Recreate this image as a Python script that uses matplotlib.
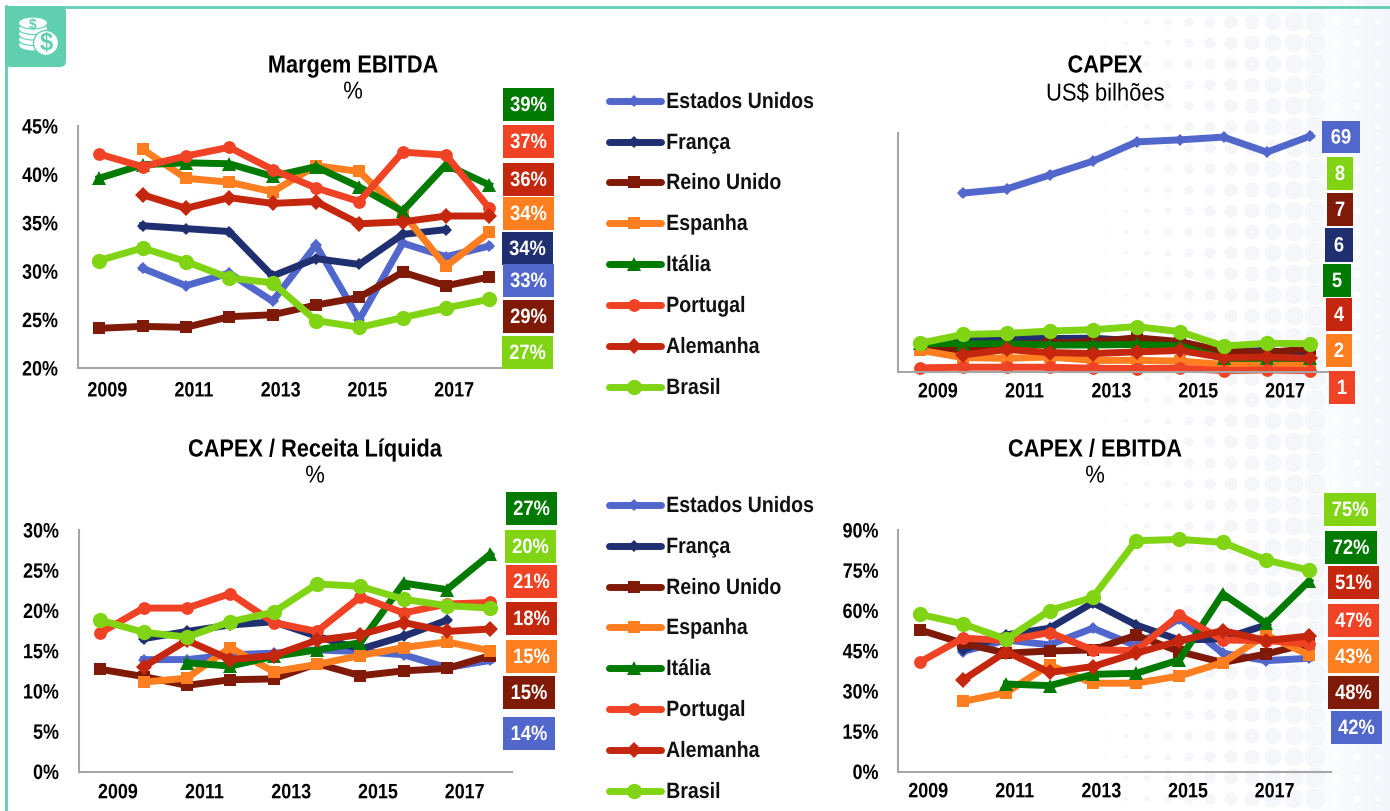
import numpy as np
import matplotlib
matplotlib.use("Agg")
import matplotlib.pyplot as plt
from matplotlib.patches import Rectangle, FancyBboxPatch, Ellipse, Circle
from matplotlib.patheffects import AbstractPathEffect
from matplotlib.transforms import Affine2D

W, H = 1390, 812
plt.rcParams["font.family"] = ["Liberation Sans", "DejaVu Sans"]

years = [2009, 2010, 2011, 2012, 2013, 2014, 2015, 2016, 2017, 2018]
tick_years = ["2009", "2011", "2013", "2015", "2017"]
series_names = ["Estados Unidos", "França", "Reino Unido", "Espanha", "Itália",
                "Portugal", "Alemanha", "Brasil"]

# Margem EBITDA, %
margem_eua = [None, 30.3, 28.5, 29.8, 26.9, 32.7, 25.0, 32.9, 31.5, 32.6]
margem_franca = [None, 34.7, 34.4, 34.1, 29.5, 31.3, 30.7, 33.8, 34.3, None]
margem_uk = [24.1, 24.3, 24.2, 25.3, 25.5, 26.5, 27.3, 29.9, 28.5, 29.4]
margem_espanha = [None, 42.6, 39.6, 39.2, 38.2, 40.9, 40.3, 36.0, 30.5, 34.0]
margem_italia = [39.6, 41.0, 41.2, 41.1, 39.8, 40.8, 38.7, 36.2, 41.0, 38.9]
margem_portugal = [42.1, 40.8, 41.9, 42.8, 40.5, 38.6, 37.2, 42.3, 42.0, 36.5]
margem_alemanha = [None, 37.9, 36.5, 37.6, 37.0, 37.2, 34.9, 35.1, 35.7, 35.7]
margem_brasil = [31.1, 32.4, 31.0, 29.3, 28.8, 24.9, 24.2, 25.2, 26.2, 27.1]

# CAPEX, US$ bilhoes
capex_eua = [None, 52.4, 53.6, 57.7, 61.8, 67.4, 68.0, 68.8, 64.4, 69.1]
capex_franca = [8.6, 9.6, 9.8, 9.8, 9.9, 9.1, 8.3, 6.0, 6.3, 5.2]
capex_uk = [7.6, 6.1, 8.0, 8.5, 8.9, 10.0, 8.9, 6.1, 5.7, 6.8]
capex_espanha = [6.4, 4.2, 4.0, 4.4, 3.4, 3.4, 3.2, 2.2, 2.4, 2.2]
capex_italia = [8.4, 8.3, 8.3, 7.9, 7.9, 8.1, 7.6, 4.0, 4.0, 4.0]
capex_portugal = [1.2, 1.4, 1.4, 1.4, 1.1, 1.0, 1.1, 0.4, 0.6, 0.4]
capex_alemanha = [None, 5.0, 6.6, 5.7, 5.4, 5.9, 6.3, 4.2, 4.4, 4.0]
capex_brasil = [8.4, 11.0, 11.3, 12.0, 12.4, 13.3, 11.8, 7.6, 8.4, 8.3]

# CAPEX / Receita Liquida, %
receita_eua = [None, 13.9, 13.9, 14.5, 14.7, 15.1, 14.9, 14.5, 12.9, 13.8]
receita_franca = [None, 16.5, 17.4, 18.2, 18.6, 16.8, 15.2, 16.8, 18.8, None]
receita_uk = [12.7, 11.8, 10.7, 11.4, 11.5, 13.4, 11.9, 12.5, 12.8, 14.4]
receita_espanha = [None, 11.1, 11.6, 15.4, 12.4, 13.3, 14.4, 15.4, 16.1, 15.0]
receita_italia = [None, None, 13.5, 13.1, 14.3, 15.1, 16.0, 23.4, 22.6, 27.0]
receita_portugal = [17.2, 20.3, 20.3, 22.1, 18.5, 17.4, 21.7, 19.7, 20.8, 21.0]
receita_alemanha = [None, 13.0, 16.3, 13.9, 14.4, 16.3, 17.0, 18.5, 17.4, 17.7]
receita_brasil = [18.8, 17.3, 16.7, 18.6, 19.8, 23.3, 23.0, 21.4, 20.6, 20.3]

# CAPEX / EBITDA, %
ebitda_eua = [None, 44.7, 49.0, 47.2, 53.4, 46.8, 57.0, 44.1, 41.3, 42.2]
ebitda_franca = [None, 45.3, 50.9, 53.4, 62.9, 54.6, 49.0, 49.4, 54.6, None]
ebitda_uk = [52.8, 47.8, 44.1, 44.9, 45.3, 50.8, 44.7, 40.6, 43.8, 47.8]
ebitda_espanha = [None, 26.1, 29.4, 39.7, 32.9, 32.9, 35.6, 40.6, 50.9, 43.4]
ebitda_italia = [None, None, 32.6, 32.0, 36.2, 36.6, 41.6, 66.2, 55.2, 71.1]
ebitda_portugal = [40.7, 49.7, 48.8, 51.8, 45.3, 45.1, 58.3, 49.0, 48.8, 47.5]
ebitda_alemanha = [None, 34.1, 44.7, 36.9, 39.1, 44.1, 48.7, 52.5, 48.8, 50.5]
ebitda_brasil = [58.6, 55.0, 49.3, 60.0, 64.9, 86.0, 86.5, 85.4, 78.8, 75.0]

# end labels, top to bottom
margem_labels = ["39%", "37%", "36%", "34%", "34%", "33%", "29%", "27%"]
capex_labels = ["69", "8", "7", "6", "5", "4", "2", "1"]
receita_labels = ["27%", "20%", "21%", "18%", "15%", "15%", "14%"]
ebitda_labels = ["75%", "72%", "51%", "47%", "43%", "48%", "42%"]

COLORS = {
    "Estados Unidos": "#5167CC", "França": "#1F2F70", "Reino Unido": "#7F1A08",
    "Espanha": "#FF7F20", "Itália": "#007A00", "Portugal": "#F04225",
    "Alemanha": "#C4260E", "Brasil": "#80D414",
}
MARKERS = {
    "Estados Unidos": ("D", 6.5), "França": ("D", 6.0), "Reino Unido": ("s", 8.0),
    "Espanha": ("s", 8.0), "Itália": ("^", 10), "Portugal": ("o", 9.2),
    "Alemanha": ("D", 7.8), "Brasil": ("o", 11),
}
TEAL = "#5FCFB0"
LW = 5.0


class Squeeze(AbstractPathEffect):
    # the reference font is a narrow one, none is installed so squeeze the glyphs
    def __init__(self, sx, ha="center"):
        super().__init__()
        self.sx = sx
        self.ha = ha

    def draw_path(self, renderer, gc, tpath, affine, rgbFace=None):
        ext = tpath.get_extents()
        anchor = {"left": ext.x0, "center": (ext.x0 + ext.x1) / 2, "right": ext.x1}[self.ha]
        squeeze = Affine2D().translate(-anchor, 0).scale(self.sx, 1).translate(anchor, 0)
        renderer.draw_path(gc, tpath, squeeze + affine, rgbFace)


def px_axes(fig, left, top, right, bottom):
    ax = fig.add_axes([left / W, 1 - bottom / H, (right - left) / W, (bottom - top) / H], zorder=2)
    ax.patch.set_alpha(0)
    return ax


def draw_panel(fig, rect, data, ylim, yticks, ylabels, tick_shift, xpad):
    ax = px_axes(fig, *rect)
    for name, values in zip(series_names, data):
        y = np.array(values, dtype=float)
        marker, size = MARKERS[name]
        ax.plot(range(len(years)), y, color=COLORS[name], lw=LW, marker=marker,
                ms=size, mew=0, clip_on=False, solid_joinstyle="miter")
    ax.set_xlim(-0.5, 9.5)
    ax.set_ylim(*ylim)
    ax.set_xticks(np.arange(0, 10, 2) + tick_shift)
    ax.set_xticklabels(tick_years, fontsize=15, fontweight="bold")
    ax.set_yticks(yticks)
    ax.set_yticklabels(ylabels, fontsize=15, fontweight="bold")
    ax.tick_params(length=0, axis="x", pad=xpad)
    ax.tick_params(length=0, axis="y", pad=14.0)
    for lab in ax.get_xticklabels():
        lab.set_path_effects([Squeeze(0.86, "center")])
    for lab in ax.get_yticklabels():
        lab.set_path_effects([Squeeze(0.86, "right")])
    for side in ["top", "right"]:
        ax.spines[side].set_visible(False)
    for side in ["left", "bottom"]:
        ax.spines[side].set_color("#A6A6A6")
        ax.spines[side].set_linewidth(1.5)
    return ax


def draw_boxes(over, labels, boxes, colors):
    for text, (x0, y0, x1, y1), color in zip(labels, boxes, colors):
        over.add_patch(Rectangle((x0, y0 + 1), x1 - x0, y1 - y0, color=color, lw=0, zorder=5))
        over.text((x0 + x1) / 2, (y0 + y1) / 2 + 2, text, color="white", fontsize=15,
                  fontweight="bold", ha="center", va="center", zorder=6,
                  path_effects=[Squeeze(0.88, "center")])


def draw_legend(over, rows):
    for name, y in zip(series_names, rows):
        marker, size = MARKERS[name]
        over.plot([609, 661], [y + 1, y + 1], color=COLORS[name], lw=LW, solid_capstyle="round")
        over.plot([634], [y + 1], color=COLORS[name], marker=marker, ms=size, mew=0)
        over.text(666, y + 2.5, name, fontsize=16, fontweight="bold", va="center", ha="left",
                  color="#111111", path_effects=[Squeeze(0.88, "left")])


def draw_title(over, x, y, title, sub, sub_y):
    over.text(x, y + 2.5, title, fontsize=17.8, fontweight="bold", ha="center", va="center",
              path_effects=[Squeeze(0.88, "center")])
    over.text(x, sub_y + 2.5, sub, fontsize=17.6, ha="center", va="center",
              path_effects=[Squeeze(0.9, "center")])


def draw_icon(over):
    over.add_patch(FancyBboxPatch((8, 10), 55, 55, boxstyle="round,pad=3,rounding_size=6",
                                  fc=TEAL, ec="none", zorder=3))
    for i in range(5):
        over.add_patch(Ellipse((33, 46 - i * 5.5), 29, 12, fc="white", ec=TEAL, lw=0.8, zorder=4))
    over.text(33, 24.5, "$", color=TEAL, fontsize=10, fontweight="bold", ha="center",
              va="center", zorder=5)
    over.add_patch(Circle((46, 44), 12.5, fc="white", ec=TEAL, lw=1, zorder=5))
    over.text(46, 44, "$", color=TEAL, fontsize=17, fontweight="bold", ha="center",
              va="center", zorder=6)


def draw_background(back):
    # faint dot screen on the right side, bluish wash at the far edge
    wash = np.linspace(0, 1, 90).reshape(1, -1, 1)
    rgb = (1 - wash) * np.array([1, 1, 1]) + wash * np.array([0.95, 0.965, 0.98])
    back.imshow(rgb, extent=(1300, 1390, H, 0), aspect="auto", zorder=0)
    back.set_xlim(0, W)
    back.set_ylim(H, 0)
    gx, gy = np.meshgrid(np.arange(1105, 1330, 21), np.arange(23, 812, 21))
    diam = 2 + (gx - 1105) / 205 * 18
    back.scatter(gx, gy, s=(diam / 1.389) ** 2, color="#F5F6F9", lw=0, zorder=1)
    gx, gy = np.meshgrid(np.arange(1336, 1390, 21), np.arange(23, 812, 21))
    diam = 9 - (gx - 1336) / 54 * 6
    back.scatter(gx, gy, s=(diam / 1.389) ** 2, color="white", lw=0, zorder=1)


def main():
    fig = plt.figure(figsize=(W / 100, H / 100), dpi=100, facecolor="white")

    back = fig.add_axes([0, 0, 1, 1], zorder=0)
    back.axis("off")
    draw_background(back)

    over = fig.add_axes([0, 0, 1, 1], zorder=3)
    over.set_xlim(0, W)
    over.set_ylim(H, 0)
    over.axis("off")
    over.patch.set_alpha(0)

    over.plot([6, 1390], [7.5, 7.5], color=TEAL, lw=2.0)
    over.plot([6, 6], [7, 812], color=TEAL, lw=2.0)
    draw_icon(over)

    margem = [margem_eua, margem_franca, margem_uk, margem_espanha, margem_italia,
              margem_portugal, margem_alemanha, margem_brasil]
    capex = [capex_eua, capex_franca, capex_uk, capex_espanha, capex_italia,
             capex_portugal, capex_alemanha, capex_brasil]
    receita = [receita_eua, receita_franca, receita_uk, receita_espanha, receita_italia,
               receita_portugal, receita_alemanha, receita_brasil]
    ebitda = [ebitda_eua, ebitda_franca, ebitda_uk, ebitda_espanha, ebitda_italia,
              ebitda_portugal, ebitda_alemanha, ebitda_brasil]

    draw_panel(fig, (77.5, 127, 511, 369), margem, (20, 45), range(20, 50, 5),
               [f"{v}%" for v in range(20, 50, 5)], 0.19, 9.7)
    draw_panel(fig, (898, 134, 1332, 373), capex, (0, 70), [], [], 0.42, 7.5)
    draw_panel(fig, (78.5, 531, 512, 772.5), receita, (0, 30), range(0, 35, 5),
               [f"{v}%" for v in range(0, 35, 5)], 0.41, 8.5)
    draw_panel(fig, (898, 531, 1331, 772.5), ebitda, (0, 90), range(0, 105, 15),
               [f"{v}%" for v in range(0, 105, 15)], 0.2, 7.8)

    c = COLORS
    draw_boxes(over, margem_labels,
               [(503, 88, 554, 121), (503, 125, 554, 158), (503, 163, 554, 196),
                (503, 197, 554, 230), (502, 232, 553, 265), (503, 264, 554, 297),
                (503, 300, 554, 333), (502, 336, 553, 369)],
               [c["Itália"], c["Portugal"], c["Alemanha"], c["Espanha"], c["França"],
                c["Estados Unidos"], c["Reino Unido"], c["Brasil"]])
    draw_boxes(over, capex_labels,
               [(1322, 121, 1360, 153), (1327, 157, 1353, 190), (1327, 193, 1353, 226),
                (1325, 228, 1353, 262), (1323, 264, 1351, 297), (1326, 298, 1352, 331),
                (1326, 334, 1352, 367), (1329, 371, 1355, 404)],
               [c["Estados Unidos"], c["Brasil"], c["Reino Unido"], c["França"], c["Itália"],
                c["Alemanha"], c["Espanha"], c["Portugal"]])
    draw_boxes(over, receita_labels,
               [(506, 492, 557, 525), (505, 530, 556, 563), (506, 565, 557, 598),
                (506, 602, 557, 635), (506, 640, 557, 673), (503, 676, 555, 709),
                (503, 717, 555, 750)],
               [c["Itália"], c["Brasil"], c["Portugal"], c["Alemanha"], c["Espanha"],
                c["Reino Unido"], c["Estados Unidos"]])
    draw_boxes(over, ebitda_labels,
               [(1324, 493, 1376, 526), (1325, 531, 1377, 564), (1328, 566, 1379, 599),
                (1328, 604, 1379, 637), (1328, 640, 1379, 673), (1328, 676, 1379, 709),
                (1331, 711, 1382, 744)],
               [c["Brasil"], c["Itália"], c["Alemanha"], c["Portugal"], c["Espanha"],
                c["Reino Unido"], c["Estados Unidos"]])

    draw_legend(over, [101, 142, 182, 223, 264, 305, 346, 387])
    draw_legend(over, [505, 546, 587, 627, 668, 709, 750, 791])

    draw_title(over, 353, 64, "Margem EBITDA", "%", 91)
    draw_title(over, 1105, 64, "CAPEX", "US$ bilhões", 93)
    draw_title(over, 315, 448, "CAPEX / Receita Líquida", "%", 475)
    draw_title(over, 1095, 448, "CAPEX / EBITDA", "%", 475)

    fig.savefig("out.png", dpi=100)


if __name__ == "__main__":
    main()
